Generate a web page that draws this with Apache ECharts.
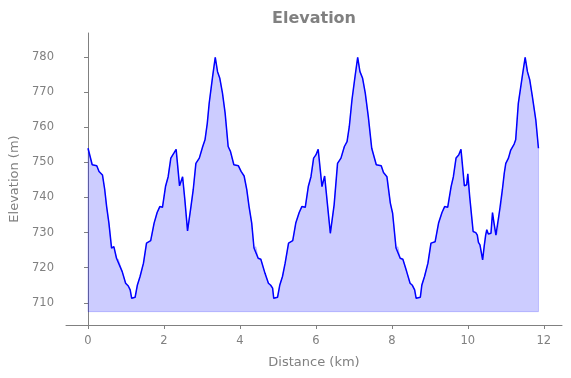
<!DOCTYPE html>
<html>
<head>
<meta charset="utf-8">
<script src="https://cdn.jsdelivr.net/npm/echarts@6/dist/echarts.min.js"></script>
<style>
html, body { margin: 0; padding: 0; background: #fff; }
#chart { width: 571px; height: 378px; }
</style>
</head>
<body>
<div id="chart"></div>
<script>
// 距离 (km)
var distance = [
    0.00, 0.11, 0.23, 0.29, 0.38, 0.44, 0.49, 0.55, 0.62, 0.68, 0.75, 0.80, 0.90, 0.99, 1.06, 1.11, 1.15, 1.24,
    1.30, 1.37, 1.46, 1.54, 1.65, 1.74, 1.82, 1.89, 1.96, 2.04, 2.11, 2.18, 2.26, 2.32, 2.41, 2.49, 2.55, 2.62,
    2.71, 2.77, 2.84, 2.93, 3.02, 3.08, 3.14, 3.19, 3.28, 3.35, 3.41, 3.47, 3.54, 3.61, 3.69, 3.75, 3.84, 3.96,
    4.03, 4.11, 4.18, 4.24, 4.31, 4.37, 4.42, 4.48, 4.55, 4.66, 4.75, 4.81, 4.86, 4.89, 4.99, 5.05, 5.12, 5.19,
    5.28, 5.39, 5.47, 5.56, 5.63, 5.72, 5.80, 5.87, 5.94, 6.00, 6.06, 6.16, 6.23, 6.31, 6.38, 6.48, 6.57, 6.66,
    6.75, 6.82, 6.88, 6.95, 7.03, 7.10, 7.16, 7.23, 7.30, 7.38, 7.47, 7.59, 7.72, 7.78, 7.87, 7.96, 8.02, 8.11,
    8.16, 8.22, 8.29, 8.39, 8.48, 8.54, 8.60, 8.64, 8.75, 8.79, 8.86, 8.95, 9.03, 9.14, 9.23, 9.32, 9.39, 9.47,
    9.56, 9.62, 9.69, 9.76, 9.82, 9.91, 9.97, 10.00, 10.05, 10.11, 10.14, 10.21, 10.25, 10.28, 10.32, 10.39,
    10.43, 10.47, 10.50, 10.54, 10.61, 10.65, 10.69, 10.74, 10.78, 10.84, 10.87, 10.91, 10.96, 11.00, 11.07,
    11.13, 11.22, 11.26, 11.33, 11.44, 11.51, 11.57, 11.63, 11.70, 11.79, 11.86
];
// 海拔 (m)
var elevation = [
    754.0, 749.3, 749.0, 747.4, 746.4, 742.2, 737.4, 732.7, 725.6, 726.0, 722.7, 722.4, 718.9, 715.6, 714.8, 713.7, 711.3, 711.6,
    715.1, 717.5, 721.3, 727.0, 727.7, 732.7, 735.7, 737.4, 737.2, 743.1, 745.9, 751.2, 752.6, 753.7, 743.3, 745.9, 739.3, 730.5,
    737.4, 742.2, 749.7, 751.2, 754.5, 756.4, 761.1, 766.8, 774.4, 779.9, 775.8, 773.9, 769.7, 764.0, 754.5, 753.1, 749.3, 749.0,
    747.4, 746.1, 742.2, 737.4, 732.7, 725.6, 726.0, 722.7, 722.4, 718.4, 715.6, 715.0, 714.2, 711.3, 711.6, 715.1, 717.5, 721.3,
    727.0, 727.7, 732.7, 735.7, 737.4, 737.2, 743.1, 745.9, 751.2, 752.1, 753.7, 743.1, 746.1, 737.4, 729.8, 737.9, 749.7, 751.2,
    754.5, 755.9, 760.2, 767.8, 774.4, 779.9, 775.8, 773.9, 769.7, 763.0, 754.0, 749.3, 749.0, 747.1, 745.9, 738.4, 735.5, 725.6,
    726.0, 722.7, 722.4, 718.9, 715.6, 715.0, 713.7, 711.3, 711.6, 715.1, 717.5, 721.3, 727.0, 727.4, 732.7, 735.7, 737.4, 737.2,
    743.1, 745.9, 751.2, 752.1, 753.7, 743.3, 743.6, 746.7, 740.2, 733.6, 730.3, 730.0, 729.3, 727.2, 726.5, 722.2,
    726.0, 729.3, 730.8, 729.6, 729.8, 735.7, 732.7, 729.3, 729.8, 736.5, 737.0, 742.2, 746.9, 749.7, 751.2,
    753.5, 755.2, 756.4, 766.8, 774.9, 779.9, 775.8, 773.5, 768.7, 762.1, 754.0
];
// 填充底线
var baseline = 707.5;
// 刻度
var xTicks = [0, 2, 4, 6, 8, 10, 12];
var yTicks = [710, 720, 730, 740, 750, 760, 770, 780];

var grey = '#808080';
var points = distance.map(function (d, i) { return [d, elevation[i]]; });

var myChart = echarts.init(document.getElementById('chart'));
var option = {
    animation: false,
    graphic: [{
        type: 'text',
        x: 314,
        y: 11,
        style: {
            text: 'Elevation',
            textAlign: 'center',
            textVerticalAlign: 'top',
            fill: grey,
            font: 'bold 16px "DejaVu Sans"'
        }
    }],
    grid: {left: 66, right: 9, top: 33, bottom: 53},
    xAxis: {
        type: 'value',
        min: -0.58,
        max: 12.48,
        name: 'Distance (km)',
        nameLocation: 'middle',
        nameGap: 31,
        nameTextStyle: {color: grey, fontSize: 13, fontFamily: 'DejaVu Sans'},
        axisLine: {onZero: false, lineStyle: {color: grey, width: 1}},
        axisTick: {show: true, length: 4, customValues: xTicks, lineStyle: {color: grey}},
        axisLabel: {customValues: xTicks, color: grey, fontSize: 11.5, fontFamily: 'DejaVu Sans', margin: 10},
        splitLine: {show: false}
    },
    yAxis: {
        type: 'value',
        min: 703.7,
        max: 786.8,
        name: 'Elevation (m)',
        nameLocation: 'middle',
        nameGap: 39,
        nameTextStyle: {color: grey, fontSize: 13, fontFamily: 'DejaVu Sans'},
        axisLine: {show: true, lineStyle: {color: grey, width: 1}},
        axisTick: {show: true, length: 4, customValues: yTicks, lineStyle: {color: grey}},
        axisLabel: {customValues: yTicks, color: grey, fontSize: 11.5, fontFamily: 'DejaVu Sans', margin: 12},
        splitLine: {show: false}
    },
    series: [
        {
            // 填充区域
            type: 'custom',
            silent: true,
            data: [0],
            renderItem: function (params, api) {
                var poly = [api.coord([distance[0], baseline])];
                for (var i = 0; i < points.length; i++) {
                    poly.push(api.coord(points[i]));
                }
                poly.push(api.coord([distance[distance.length - 1], baseline]));
                return {
                    type: 'polygon',
                    shape: {points: poly},
                    style: {fill: 'rgba(0,0,255,0.2)', stroke: 'rgba(0,0,255,0.2)', lineWidth: 1}
                };
            }
        },
        {
            type: 'line',
            data: points,
            showSymbol: false,
            lineStyle: {color: '#0000ff', width: 1.5},
            z: 3
        }
    ]
};
myChart.setOption(option);
</script>
</body>
</html>
